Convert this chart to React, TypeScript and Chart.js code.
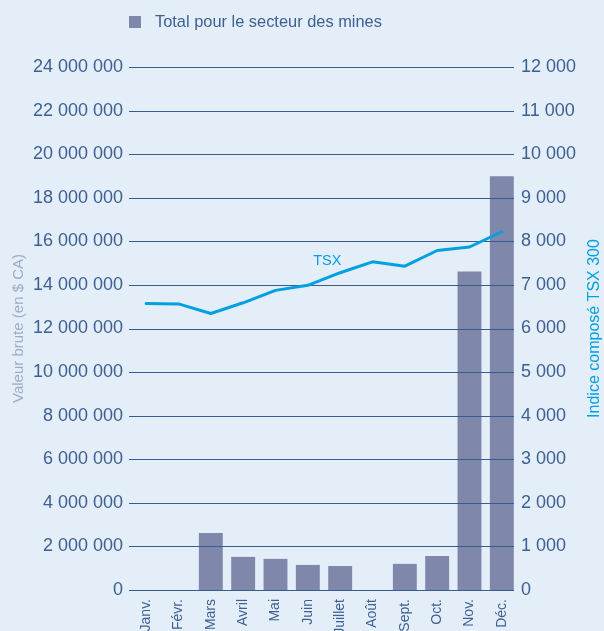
import React, { useEffect, useRef } from "react";
import { Chart, registerables } from "chart.js";

Chart.register(...registerables);

const months = ["Janv.", "Févr.", "Mars", "Avril", "Mai", "Juin", "Juillet", "Août", "Sept.", "Oct.", "Nov.", "Déc."];
const miningTotal = [0, 0, 2620000, 1520000, 1430000, 1150000, 1100000, 0, 1200000, 1560000, 14620000, 18990000];
const tsxIndex = [6575, 6565, 6345, 6590, 6875, 6990, 7280, 7530, 7430, 7790, 7870, 8220];
const barLabel = "Total pour le secteur des mines";
const lineLabel = "TSX";
const leftTitle = "Valeur brute (en $ CA)";
const rightTitle = "Indice composé TSX 300";
const leftMax = 24000000;
const leftStep = 2000000;
const rightMax = 12000;
const rightStep = 1000;
const tsxLabelIndex = 5.6;
const tsxLabelValue = 7540;

const BG = "#e4eef9";
const TEXT = "#3d5f92";
const GRID = "#3b5b8e";
const BAR = "#7f88ab";
const CYAN = "#00a0e1";
const LEFT_TITLE = "#9eabc8";
const FONT = "'Liberation Sans', Arial, Helvetica, sans-serif";

const fmt = (v: number) => String(Math.round(v)).replace(/\B(?=(\d{3})+(?!\d))/g, " ");

const overlayPlugin = {
  id: "overlay",
  afterDatasetDraw(chart: any, args: any) {
    if (args.index !== 0) return;
    const { ctx, chartArea } = chart;
    const y = chart.scales.y;
    ctx.save();
    ctx.strokeStyle = GRID;
    ctx.lineWidth = 1;
    y.ticks.forEach((t: any) => {
      const py = Math.round(y.getPixelForValue(t.value)) + 0.5;
      ctx.beginPath();
      ctx.moveTo(chartArea.left - 1, py);
      ctx.lineTo(chartArea.right - 4, py);
      ctx.stroke();
    });
    ctx.restore();
  },
  afterDraw(chart: any) {
    const { ctx, chartArea } = chart;
    const x = chart.scales.x;
    const y1 = chart.scales.y1;
    ctx.save();
    // legend
    ctx.fillStyle = BAR;
    ctx.fillRect(129, 16, 12, 12);
    ctx.fillStyle = TEXT;
    ctx.font = `16.4px ${FONT}`;
    ctx.textAlign = "left";
    ctx.textBaseline = "middle";
    ctx.fillText(barLabel, 155, 22);
    // TSX label
    ctx.fillStyle = CYAN;
    ctx.font = `14.5px ${FONT}`;
    ctx.textAlign = "center";
    ctx.fillText(lineLabel, x.getPixelForValue(tsxLabelIndex), y1.getPixelForValue(tsxLabelValue));
    // right axis title
    ctx.translate(595, (chartArea.top + chartArea.bottom) / 2);
    ctx.rotate(-Math.PI / 2);
    ctx.font = `16px ${FONT}`;
    ctx.fillStyle = CYAN;
    ctx.textAlign = "center";
    ctx.textBaseline = "middle";
    ctx.fillText(rightTitle, 0, 0);
    ctx.restore();
  },
};

export default function App() {
  const ref = useRef<HTMLCanvasElement>(null);
  useEffect(() => {
    if (!ref.current) return;
    const chart = new Chart(ref.current, {
      type: "bar",
      data: {
        labels: months,
        datasets: [
          {
            type: "bar",
            label: barLabel,
            data: miningTotal,
            backgroundColor: BAR,
            yAxisID: "y",
            order: 1,
            categoryPercentage: 1,
            barPercentage: 0.74,
          },
          {
            type: "line",
            label: lineLabel,
            data: tsxIndex,
            borderColor: CYAN,
            borderWidth: 3,
            pointRadius: 0,
            tension: 0,
            yAxisID: "y1",
            order: 0,
            borderCapStyle: "round",
            borderJoinStyle: "round",
          } as any,
        ],
      },
      options: {
        responsive: false,
        animation: false,
        devicePixelRatio: 1,
        layout: { padding: { top: 67, left: 0, right: 0, bottom: 0 } },
        plugins: {
          legend: { display: false },
          tooltip: { enabled: false },
        },
        scales: {
          x: {
            grid: { display: false, drawTicks: false },
            border: { display: false },
            ticks: {
              color: TEXT,
              font: { size: 14, family: FONT },
              maxRotation: 90,
              minRotation: 90,
              padding: 9,
              autoSkip: false,
            },
            afterFit: (s: any) => {
              s.height = 60;
            },
          },
          y: {
            position: "left",
            min: 0,
            max: leftMax,
            grid: { display: false, drawTicks: false },
            border: { display: false },
            ticks: {
              stepSize: leftStep,
              color: TEXT,
              font: { size: 18, family: FONT },
              padding: 7,
              callback: (v: any) => fmt(Number(v)),
            },
            title: {
              display: true,
              text: leftTitle,
              color: LEFT_TITLE,
              font: { size: 15, family: FONT },
              padding: { top: 10, bottom: 0 },
            },
            afterFit: (s: any) => {
              s.width = 130;
            },
          },
          y1: {
            position: "right",
            min: 0,
            max: rightMax,
            grid: { display: false, drawTicks: false },
            border: { display: false },
            ticks: {
              stepSize: rightStep,
              color: TEXT,
              font: { size: 18, family: FONT },
              padding: 3,
              callback: (v: any) => fmt(Number(v)),
            },
            afterFit: (s: any) => {
              s.width = 86;
            },
          },
        },
      } as any,
      plugins: [overlayPlugin],
    });
    return () => chart.destroy();
  }, []);
  return (
    <div style={{ position: "fixed", left: 0, top: 0, width: 604, height: 650, background: BG }}>
      <canvas ref={ref} width={604} height={650} style={{ width: 604, height: 650, display: "block" }} />
    </div>
  );
}
